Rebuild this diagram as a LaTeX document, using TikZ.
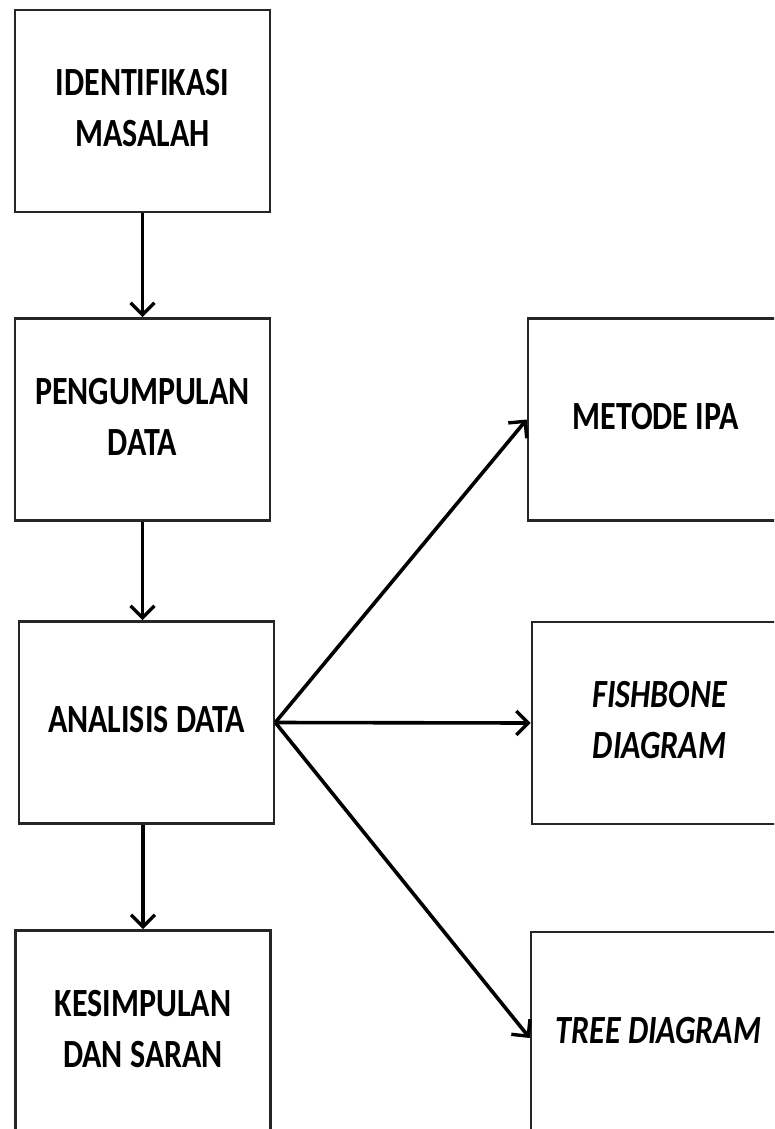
\documentclass[tikz,border=0pt]{standalone}
\usepackage{fontspec}
\setmainfont{Carlito}
\usepackage{graphicx}
\usetikzlibrary{arrows.meta}
% tall bold label, several lines
\newcommand{\boxlabel}[1]{\scalebox{1}[1.25]{\fontsize{32}{40.8}\selectfont\bfseries\begin{tabular}{@{}c@{}}#1\end{tabular}}}
\begin{document}
\begin{tikzpicture}[x=1pt,y=-1pt,
  stepbox/.style={draw=black!85, line width=2.6pt, minimum width=255pt, minimum height=202pt, inner sep=0pt, fill=white},
  flow/.style={line width=3.6pt, -{Straight Barb[length=12pt,width=24pt,line width=3.4pt]}}]
\useasboundingbox (0,0) rectangle (774,1129);
\clip (0,0) rectangle (774,1129);
\fill[white] (0,0) rectangle (774,1129);

\node[stepbox] (ident) at (142.5,111) {\boxlabel{IDENTIFIKASI\\MASALAH}};
\node[stepbox] (kumpul) at (142.5,419.5) {\boxlabel{PENGUMPULAN\\DATA}};
\node[stepbox] (analisis) at (146.5,722.5) {\boxlabel{ANALISIS DATA}};
\node[stepbox] (simpul) at (143,1031.5) {\boxlabel{KESIMPULAN\\DAN SARAN}};

\node[stepbox] (ipa) at (655.5,419.5) {\boxlabel{METODE IPA}};
\node[stepbox] (fish) at (659.5,723) {\boxlabel{\itshape FISHBONE\\\itshape DIAGRAM}};
\node[stepbox] (tree) at (658.5,1033) {\boxlabel{\itshape TREE DIAGRAM}};

\draw[flow] (ident.south) -- (kumpul.north);
\draw[flow] (kumpul.south) -- (kumpul.south |- analisis.north);
\draw[flow] (simpul.north |- analisis.south) -- (simpul.north);

\draw[flow] (analisis.east) -- (ipa.west);
\draw[flow] (analisis.east) -- (fish.west);
\draw[flow] (analisis.east) -- ([yshift=-5pt]tree.west);
\end{tikzpicture}
\end{document}
